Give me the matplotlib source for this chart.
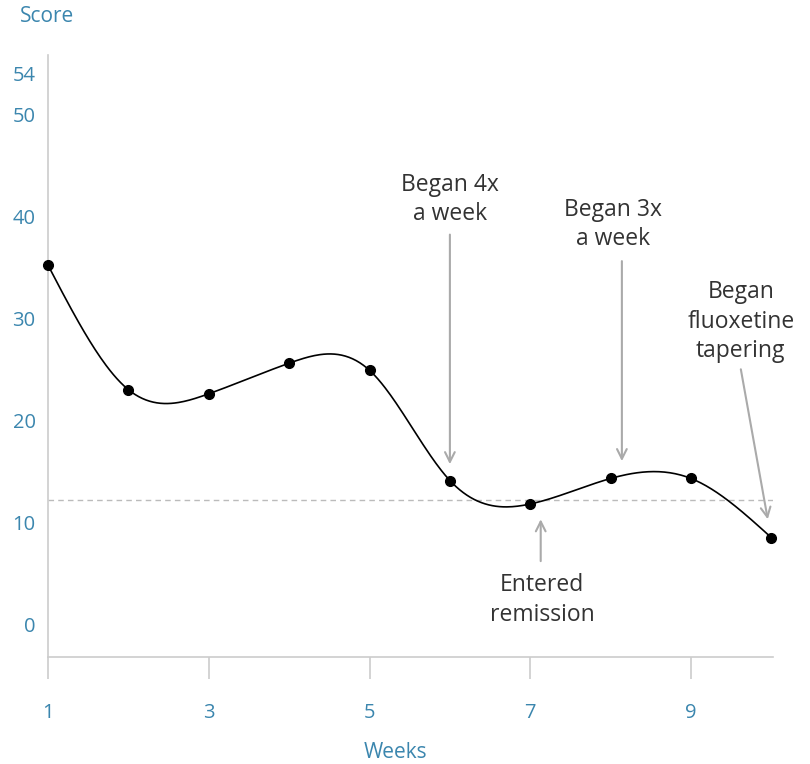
import matplotlib.pyplot as plt
import numpy as np

plt.rcParams['font.family'] = ['Open Sans', 'DejaVu Sans']

weeks = [1, 2, 3, 4, 5, 6, 7, 8, 9, 10]
scores = [35.2, 23.0, 22.6, 25.6, 24.9, 14.1, 11.8, 14.3, 14.3, 8.5]
remission_level = 12.2

x_ticks = [1, 3, 5, 7, 9]
y_ticks = [0, 10, 20, 30, 40, 50, 54]

# text, arrow tail (x, y), arrow head (x, y), text anchor (x, y), vertical alignment
notes = [
    ("Began 4x\na week", (6.0, 38.2), (6.0, 15.7), (6.0, 39.0), "bottom"),
    ("Began 3x\na week", (8.14, 35.6), (8.14, 16.0), (8.03, 36.6), "bottom"),
    ("Began\nfluoxetine\ntapering", (9.62, 25.0), (9.955, 10.3), (9.62, 25.6), "bottom"),
    ("Entered\nremission", (7.13, 6.2), (7.13, 10.3), (7.15, 5.0), "top"),
]

blue = "#3b86ae"
grey = "#aaaaaa"


def natural_spline(x, y, n=400):
    x = np.asarray(x, float)
    y = np.asarray(y, float)
    k = len(x)
    h = np.diff(x)
    a = np.zeros((k, k))
    b = np.zeros(k)
    a[0, 0] = a[-1, -1] = 1
    for i in range(1, k - 1):
        a[i, i - 1] = h[i - 1]
        a[i, i] = 2 * (h[i - 1] + h[i])
        a[i, i + 1] = h[i]
        b[i] = 3 * ((y[i + 1] - y[i]) / h[i] - (y[i] - y[i - 1]) / h[i - 1])
    c = np.linalg.solve(a, b)
    xs = np.linspace(x[0], x[-1], n)
    ys = np.empty_like(xs)
    for j, t in enumerate(xs):
        i = min(np.searchsorted(x, t, side='right') - 1, k - 2)
        dx = t - x[i]
        bi = (y[i + 1] - y[i]) / h[i] - h[i] * (2 * c[i] + c[i + 1]) / 3
        di = (c[i + 1] - c[i]) / (3 * h[i])
        ys[j] = y[i] + bi * dx + c[i] * dx ** 2 + di * dx ** 3
    return xs, ys


fig = plt.figure(figsize=(8.1, 7.64), dpi=100)
ax = fig.add_axes([0.0593, 0.140, 0.895, 0.788])

ax.axhline(remission_level, color="#bbbbbb", lw=1, ls=(0, (4, 3)), zorder=1)

xs, ys = natural_spline(weeks, scores)
ax.plot(xs, ys, color="black", lw=1.2, zorder=3)
ax.plot(weeks, scores, "o", color="black", ms=7, zorder=4, clip_on=False)

for text, tail, head, anchor, va in notes:
    ax.annotate("", xy=head, xytext=tail,
                arrowprops=dict(arrowstyle="->,head_length=0.7,head_width=0.35",
                                color=grey, lw=1.5, shrinkA=0, shrinkB=0))
    ax.text(anchor[0], anchor[1], text, ha="center", va=va, fontsize=16.5,
            color="#333333", linespacing=1.3)

ax.set_xlim(1, 10.02)
ax.set_ylim(-3.2, 55.8)
ax.set_xticks(x_ticks)
ax.set_yticks(y_ticks)
ax.tick_params(axis='x', length=16, width=1.2, color="#cccccc", labelcolor=blue,
               labelsize=14.5, pad=17)
ax.tick_params(axis='y', length=0, labelcolor=blue, labelsize=14.5, pad=9)

for side in ["top", "right"]:
    ax.spines[side].set_visible(False)
for side in ["left", "bottom"]:
    ax.spines[side].set_color("#cccccc")
    ax.spines[side].set_linewidth(1.2)

fig.text(20 / 810, 1 - 17 / 764, "Score", color=blue, fontsize=15, va="center")
fig.text(395 / 810, 1 - 753 / 764, "Weeks", color=blue, fontsize=15,
         ha="center", va="center")

fig.savefig("out.png", dpi=100)
